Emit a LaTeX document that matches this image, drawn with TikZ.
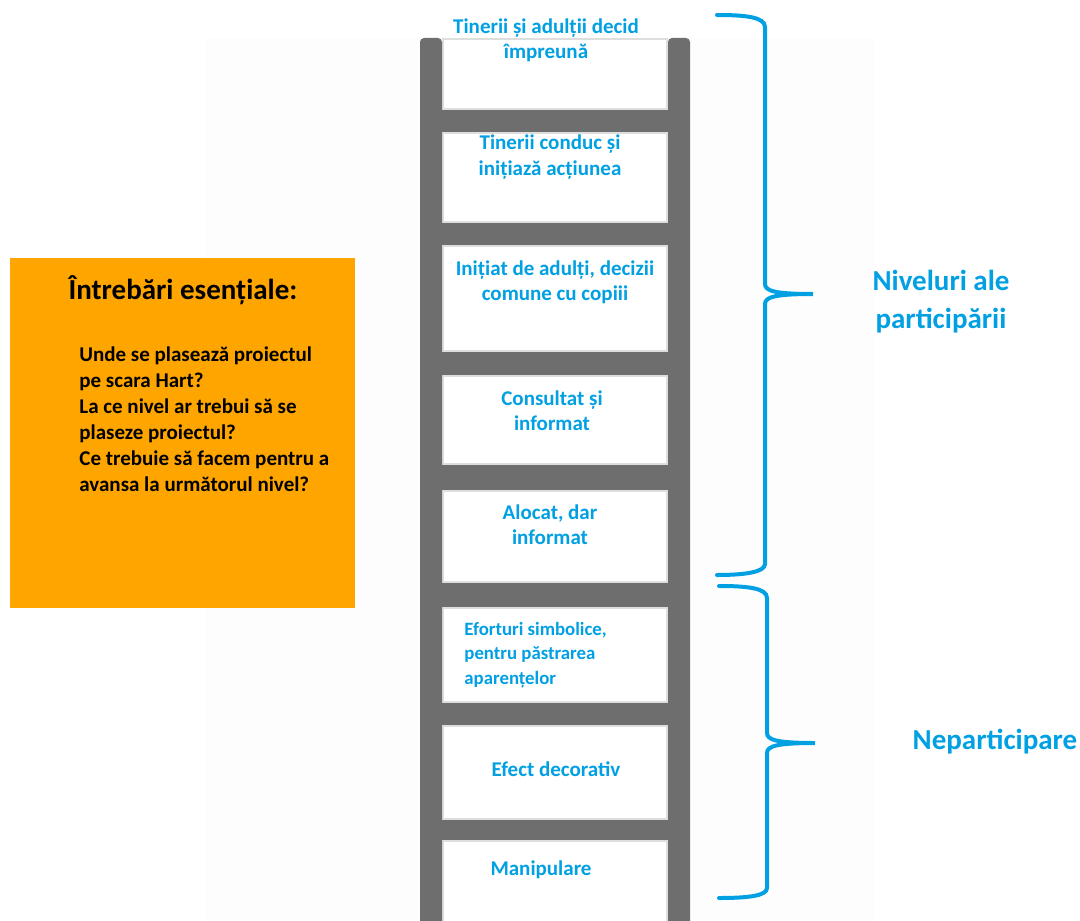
\documentclass[tikz,border=0pt]{standalone}
\usepackage{fontspec}
\setmainfont{Carlito}
\usepackage{tikz}
\usetikzlibrary{positioning,calc}

\definecolor{railgray}{RGB}{110,110,110}
\definecolor{edgegray}{RGB}{222,222,222}
\definecolor{partblue}{RGB}{0,160,227}
\definecolor{qorange}{RGB}{255,165,0}
\definecolor{paper}{RGB}{253,253,253}

\tikzset{
  rail/.style={fill=railgray, rounded corners=2pt},
  rung/.style={fill=railgray},
  stepbox/.style={fill=white, draw=edgegray, line width=1pt},
  steptext/.style={text=partblue, inner sep=0pt, align=center, font=\bfseries\fontsize{10.5}{12.6}\selectfont},
  bracepath/.style={draw=partblue, line width=2pt, line cap=round},
  sidelabel/.style={text=partblue, inner sep=0pt, align=center, font=\bfseries\fontsize{14.5}{19}\selectfont},
}

\begin{document}
\begin{tikzpicture}[x=0.5pt, y=-0.5pt]
\useasboundingbox (0,0) rectangle (1080,920);
\fill[paper] (205,38) rectangle (875,930);

\foreach \ya/\yb in {38/110,132/223,245/352,375/465,490/583,607/703,725/820,840/935}
  \draw[stepbox] (443,\ya+1) rectangle (667,\yb-1);
\foreach \ya/\yb in {110/132,223/245,352/375,465/490,583/607,703/725,820/840}
  \fill[rung] (440,\ya) rectangle (670,\yb);
\fill[rail] (420,38) rectangle (442,935);
\fill[rail] (668,38) rectangle (690,935);

\node[steptext] (lvl8) at (546,40) {Tinerii și adulții decid\\împreună};
\node[steptext] (lvl7) at (550,157) {Tinerii conduc și\\inițiază acțiunea};
\node[steptext] (lvl6) at (555,282) {Inițiat de adulți, decizii\\comune cu copiii};
\node[steptext] (lvl5) at (552,411) {Consultat și\\informat};
\node[steptext] (lvl4) at (550,525) {Alocat, dar\\informat};
\node[steptext, anchor=west, align=left, font=\bfseries\fontsize{9.4}{12.2}\selectfont] (lvl3) at (464,655) {Eforturi simbolice,\\pentru păstrarea\\aparențelor};
\node[steptext] (lvl2) at (556,769) {Efect decorativ};
\node[steptext] (lvl1) at (541,870) {Manipulare};

\fill[qorange] (10,258) rectangle (355,608);
\node[inner sep=0pt, font=\bfseries\fontsize{14.5}{17}\selectfont] (qtitle) at (183,290) {Întrebări esențiale:};
\node[inner sep=0pt, anchor=west, align=left, font=\bfseries\fontsize{10.5}{13}\selectfont] (qbody) at (79,419) {Unde se plasează proiectul\\pe scara Hart?\\La ce nivel ar trebui să se\\plaseze proiectul?\\Ce trebuie să facem pentru a\\avansa la următorul nivel?};

\coordinate (uptip) at (813,294);
\coordinate (lowtip) at (815,743);
\draw[bracepath] (717,15) .. controls (745,15) and (765,17) .. (765,27) -- (765,284)
  .. controls (765,291) and (775,294) .. (uptip)
  .. controls (775,294) and (765,297) .. (765,304) -- (765,564)
  .. controls (765,572) and (745,575) .. (717,575);
\draw[bracepath] (719,586) .. controls (747,586) and (767,588) .. (767,598) -- (767,733)
  .. controls (767,740) and (777,743) .. (lowtip)
  .. controls (777,743) and (767,746) .. (767,753) -- (767,888)
  .. controls (767,896) and (747,898) .. (719,898);

\node[sidelabel] (partic) at (941,302) {Niveluri ale\\participării};
\node[sidelabel] (nonpart) at (995,742) {Neparticipare};
\end{tikzpicture}
\end{document}
